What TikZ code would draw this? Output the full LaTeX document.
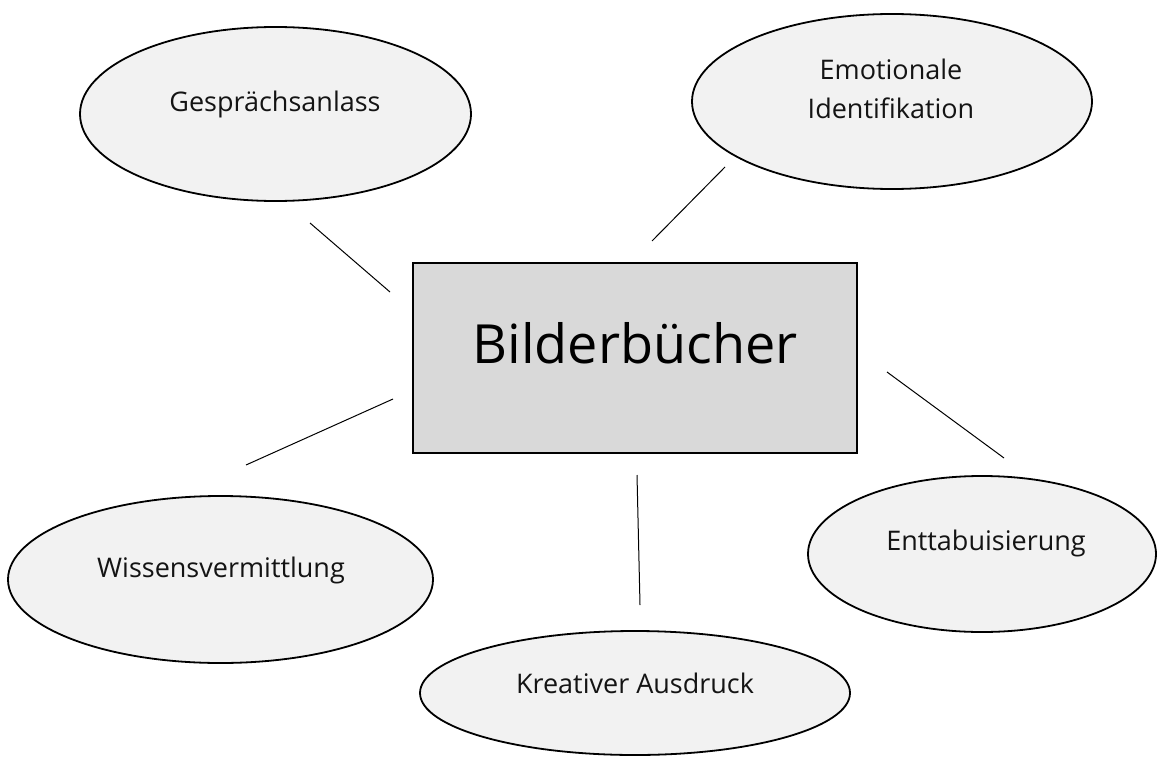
\documentclass[tikz,border=0pt]{standalone}
\usepackage{fontspec}
\setmainfont{Open Sans}
\usetikzlibrary{shapes.geometric}
\tikzset{
  bubble/.style={ellipse, draw=black, line width=1.8pt, fill=bubblefill, inner sep=0pt},
  centrebox/.style={rectangle, draw=black, line width=1.8pt, fill=boxfill, inner sep=0pt},
  lbl/.style={anchor=base, inner sep=0pt, font=\fontsize{27}{32}\selectfont, text=black!92},
  link/.style={draw=black, line width=1pt},
}
\definecolor{bubblefill}{HTML}{F2F2F2}
\definecolor{boxfill}{HTML}{D9D9D9}
\begin{document}
\begin{tikzpicture}[x=1pt,y=-1pt]
\useasboundingbox (0,0) rectangle (1158,757);
% ellipses
\node[bubble, minimum width=391pt, minimum height=174pt] (ges) at (275.5,114) {};
\node[bubble, minimum width=400pt, minimum height=175pt] (emo) at (892,101.5) {};
\node[bubble, minimum width=425pt, minimum height=167pt] (wis) at (220.5,579.5) {};
\node[bubble, minimum width=348pt, minimum height=156pt] (ent) at (982,554) {};
\node[bubble, minimum width=430pt, minimum height=124pt] (kre) at (635,693) {};
% centre box
\node[centrebox, minimum width=444pt, minimum height=190pt] (bil) at (635,358) {};
% texts
\node[lbl] (gesT) at (275,112) {Gesprächsanlass};
\node[lbl] (emoT1) at (891,80) {Emotionale};
\node[lbl] (emoT2) at (891,118) {Identifikation};
\node[lbl] (wisT) at (221,577) {Wissensvermittlung};
\node[lbl] (entT) at (986,550) {Enttabuisierung};
\node[lbl] (kreT) at (635,693) {Kreativer Ausdruck};
\node[anchor=base, inner sep=0pt, font=\fontsize{54}{62}\selectfont, text=black] (bilT) at (635,363) {Bilderbücher};
% connector end points
\coordinate (a1) at (310,223); \coordinate (a2) at (390,292);
\coordinate (b1) at (725,167); \coordinate (b2) at (652,241);
\coordinate (c1) at (393,399); \coordinate (c2) at (246,465);
\coordinate (d1) at (887,372); \coordinate (d2) at (1004,458);
\coordinate (e1) at (637,475); \coordinate (e2) at (640,605);
\draw[link] (a1) -- (a2);
\draw[link] (b1) -- (b2);
\draw[link] (c1) -- (c2);
\draw[link] (d1) -- (d2);
\draw[link] (e1) -- (e2);
\end{tikzpicture}
\end{document}
